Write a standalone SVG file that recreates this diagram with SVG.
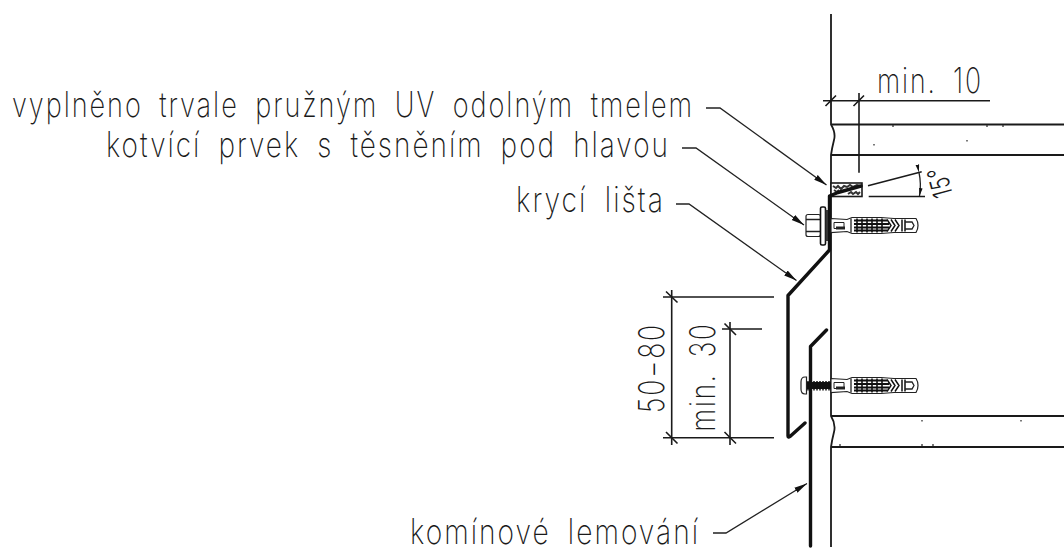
<svg xmlns="http://www.w3.org/2000/svg" width="1064" height="549" viewBox="0 0 1064 549">
<style>
.t{font-family:"Inter","Liberation Sans",sans-serif;font-weight:200;font-size:35px;fill:#1a1a1a;letter-spacing:2.500px;word-spacing:9px}
.s{font-size:27px;font-weight:300;letter-spacing:1px}
.w{fill:none;stroke:#1a1a1a;stroke-width:1.8}
.h{fill:none;stroke:#111;stroke-width:3.4;stroke-linejoin:round;stroke-linecap:round}
.d{fill:none;stroke:#1a1a1a;stroke-width:1.6}
.l{fill:none;stroke:#222;stroke-width:1.3}
.f{fill:#fff;stroke:#222;stroke-width:1.2}
</style>
<defs>
<marker id="a" markerWidth="14" markerHeight="8" refX="13" refY="4" orient="auto" markerUnits="userSpaceOnUse"><path d="M0 1L13 4L0 7Z" fill="#111"/></marker>
<marker id="b" markerWidth="9" markerHeight="6" refX="8" refY="3" orient="auto" markerUnits="userSpaceOnUse"><path d="M0 1.200L8 3L0 4.800Z" fill="#111"/></marker>
<g id="dowel">
<path class="f" d="M0-7L16-6L21-8H50L63-7H85Q87-4 87 0Q87 4 85 7H63L50 8H21L16 6L0 7Z"/>
<path d="M23-5H56M23-1.500H58M23 2H58M23 5H56" stroke="#111" stroke-width="2.200" fill="none"/>
<path d="M26-7V7M31-7V7M36-7V7M41-7V7M46-7V7M51-7V7" stroke="#111" stroke-width="1.600" fill="none"/>
<path d="M56-6L60 0L56 6M60-6L64 0L60 6M64-6L68 0L64 6M71-6V6M74-6V6" stroke="#111" stroke-width="1.500" fill="none"/>
<path d="M3-3H13V3H3Z" fill="none" stroke="#222" stroke-width="1"/>
<path d="M5 1H14V4H5Z" fill="#222"/>
<path class="l" d="M20-7V7M74-3.500H81L83 0L81 3.500H74"/>
</g>
</defs>
<g id="wall">
<path class="w" d="M831 14V124.500Q836 133 834 140Q832 148 831 155V416Q836 424 834 432Q832 440 831 447V547"/>
<path class="w" d="M831 124.500H1064M831 155H1064M831 416H1064M831 447H1064"/>
<path d="M874 144v1.500M967 140v1.500M893 125v2M987 125v2M1003 125v2M922 420v1.500M840 444v2M922 444v2M933 444v2M1021 420v1.500" stroke="#333" stroke-width="1.300" fill="none"/>
</g>
<g id="sealant">
<rect x="831" y="183" width="31" height="13.500" fill="#fff" stroke="#1a1a1a" stroke-width="1.600"/>
<path d="M833 186l3 2l2-2l3 3l3-3l3 1l3-2l3 2l4-2l3 1M848 194l3-2l2 2l3-2l2 2l2-2M834 190l3 2l2-2M837 193l2-1" stroke="#333" stroke-width="2" fill="none"/>
</g>
<g id="cover-strip">
<path class="h" d="M861 186L838 192.500L829.500 196V250L788 295.500V436Q788 438 790 436.500L805 423"/>
</g>
<g id="flashing">
<path class="h" stroke-linecap="butt" d="M826.500 330L810.500 346.500V546"/>
</g>
<g id="anchor-upper">
<use href="#dowel" x="831" y="225.500"/>
<rect x="806" y="214.500" width="14.500" height="22" rx="2" class="f" stroke-width="1.400"/>
<path class="l" d="M806 219.500H820M806 231.500H820"/>
<rect x="820.500" y="207" width="5" height="38" rx="1.500" fill="#fff" stroke="#111" stroke-width="1.600"/>
<rect x="825.500" y="210" width="2.500" height="31" fill="#333"/>
</g>
<g id="anchor-lower">
<use href="#dowel" x="831" y="385.500"/>
<path d="M806 382H831V389H806Z" fill="#111"/>
<path d="M808 381v9.500M811 381v9.500M814 381v9.500M817 381v9.500M820 381v9.500M823 381v9.500M826 381v9.500M829 381v9.500" stroke="#111" stroke-width="1.500" fill="none"/>
<path d="M801 382Q801 377 805 377H806.500V394H805Q801 394 801 389Z" class="f" stroke-width="1.400"/>
</g>
<g id="connectors">
<path class="d" d="M823 100.700H990M859 93V172.700"/>
<path class="d" d="M825.500 106L836 95.500M853.500 106L864 95.500"/>
<path class="d" d="M868 185.700L921.700 171.700M868.700 196.500H925"/>
<path class="l" marker-start="url(#b)" marker-end="url(#b)" d="M919 172.500Q921.500 184 919.500 196"/>
<path class="d" d="M663 297H774M663 437.700H774M671.700 290V445M722 329H762M730 322V445"/>
<path class="d" d="M666 291.500L677.500 302.500M666 432L677.500 443.500M724.500 323.500L736 335M724.500 432L736 443.500"/>
<path class="l" marker-end="url(#a)" d="M706 108H720L826.500 185"/>
<path class="l" marker-end="url(#a)" d="M682 148H696L804 225"/>
<path class="l" marker-end="url(#a)" d="M676 204H689L796.500 280.500"/>
<path class="l" marker-end="url(#a)" d="M713 533H726L807 483.500"/>
</g>
<g id="labels">
<text class="t" x="12" y="116.700" textLength="682" lengthAdjust="spacingAndGlyphs">vyplněno trvale pružným UV odolným tmelem</text>
<text class="t" x="106" y="156.700" textLength="564" lengthAdjust="spacingAndGlyphs">kotvící prvek s těsněním pod hlavou</text>
<text class="t" x="516" y="212" textLength="149" lengthAdjust="spacingAndGlyphs">krycí lišta</text>
<text class="t" x="410" y="544" textLength="290" lengthAdjust="spacingAndGlyphs">komínové lemování</text>
<text class="t" x="877" y="93" textLength="106" lengthAdjust="spacingAndGlyphs">min. 10</text>
<text class="t" transform="translate(664.300 413) rotate(-90)" textLength="90" lengthAdjust="spacingAndGlyphs">50−80</text>
<text class="t" transform="translate(715 431.500) rotate(-90)" textLength="109" lengthAdjust="spacingAndGlyphs">min. 30</text>
<text class="t s" transform="translate(953 195) rotate(-105)" textLength="31" lengthAdjust="spacingAndGlyphs">15°</text>
</g>
</svg>
